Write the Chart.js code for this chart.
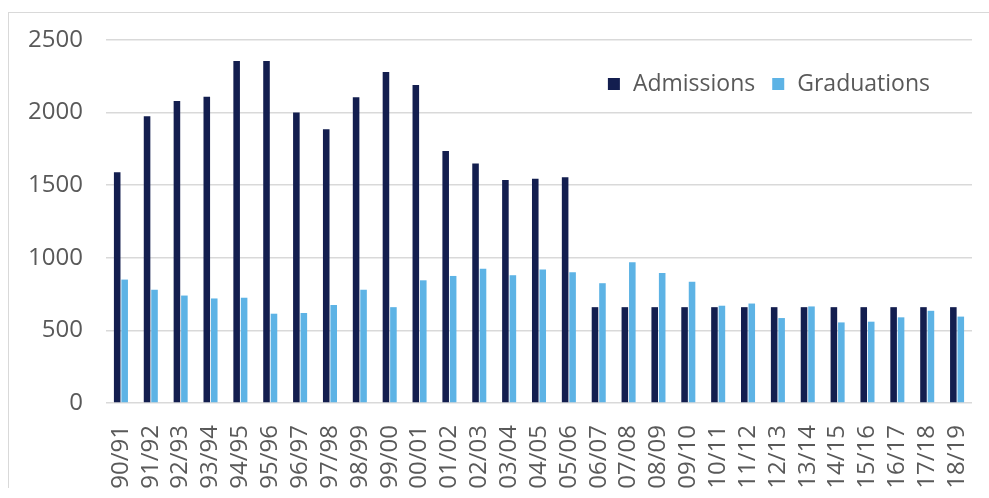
<!DOCTYPE html>
<html>
<head>
<meta charset="utf-8">
<script src="https://cdn.jsdelivr.net/npm/chart.js@4.4.0/dist/chart.umd.min.js"></script>
<style>
  body { margin: 0; background: #fff; }
  #wrap { position: relative; width: 989px; height: 498px; overflow: hidden; }
  .rule { position: absolute; background: #d9d9d9; }
  #chart { position: absolute; left: 0; top: 0; }
</style>
</head>
<body>
<div id="wrap">
  <div class="rule" style="left:8px;top:12px;width:981px;height:1px"></div>
  <div class="rule" style="left:8px;top:12px;width:1px;height:476px"></div>
  <canvas id="chart" width="989" height="498"></canvas>
</div>
<script>
const years = ['90/91','91/92','92/93','93/94','94/95','95/96','96/97','97/98','98/99','99/00',
  '00/01','01/02','02/03','03/04','04/05','05/06','06/07','07/08','08/09','09/10',
  '10/11','11/12','12/13','13/14','14/15','15/16','16/17','17/18','18/19'];

const admissions = [1590, 1975, 2080, 2110, 2355, 2355, 2000, 1885, 2105, 2280,
  2190, 1735, 1650, 1535, 1545, 1555, 660, 660, 660, 660,
  660, 660, 660, 660, 660, 660, 660, 660, 660];

const graduations = [850, 780, 740, 720, 725, 615, 620, 675, 780, 660,
  845, 875, 925, 880, 920, 900, 825, 970, 895, 835,
  670, 685, 585, 665, 555, 560, 590, 635, 595];

const yTicks = [0, 500, 1000, 1500, 2000, 2500];

const FONT = 'Open Sans';
const TEXT = '#595959';
const GRID = '#d9d9d9';

// legend drawn inside the plot, top right
const insideLegend = {
  id: 'insideLegend',
  afterDraw(chart) {
    const ctx = chart.ctx;
    const area = chart.chartArea;
    const box = 12, gap = 13, itemGap = 17;
    ctx.save();
    ctx.font = '23px "' + FONT + '"';
    ctx.textBaseline = 'middle';
    const items = chart.data.datasets.map(ds => ({
      label: ds.label, color: ds.backgroundColor, w: ctx.measureText(ds.label).width
    }));
    const total = items.reduce((s, it) => s + box + gap + it.w, 0) + itemGap * (items.length - 1);
    let x = area.right - 42 - total;
    const y = area.top + 44;
    items.forEach(it => {
      ctx.fillStyle = it.color;
      ctx.fillRect(x, y - box / 2, box, box);
      x += box + gap;
      ctx.fillStyle = TEXT;
      ctx.fillText(it.label, x, y);
      x += it.w + itemGap;
    });
    ctx.restore();
  }
};

new Chart(document.getElementById('chart'), {
  type: 'bar',
  data: {
    labels: years,
    datasets: [
      { label: 'Admissions', data: admissions, backgroundColor: '#131e4f',
        categoryPercentage: 0.5, barPercentage: 0.88 },
      { label: 'Graduations', data: graduations, backgroundColor: '#5db3e5',
        categoryPercentage: 0.5, barPercentage: 0.88 }
    ]
  },
  options: {
    responsive: false,
    animation: false,
    layout: { padding: { left: 0, top: 40, right: 17, bottom: 0 } },
    plugins: {
      legend: { display: false },
      tooltip: { enabled: false }
    },
    scales: {
      x: {
        grid: { display: false },
        border: { display: false },
        ticks: {
          color: TEXT, font: { family: FONT, size: 24 },
          minRotation: 90, maxRotation: 90, padding: 14, autoSkip: false
        },
        afterFit: s => { s.height = 95; s.paddingLeft = 0; s.paddingRight = 0; }
      },
      y: {
        min: 0, max: 2500,
        afterBuildTicks: s => { s.ticks = yTicks.map(v => ({ value: v })); },
        grid: { color: GRID, lineWidth: 1.5, drawTicks: false },
        border: { display: false },
        ticks: {
          color: TEXT, font: { family: FONT, size: 24 }, padding: 23,
          callback: v => String(v)
        },
        afterFit: s => { s.width = 106; }
      }
    }
  },
  plugins: [insideLegend]
});
</script>
</body>
</html>
